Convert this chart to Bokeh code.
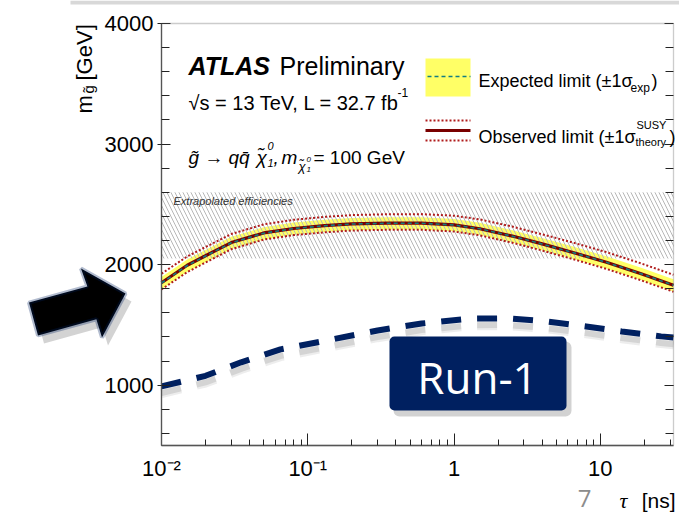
from math import log10, pi

from bokeh.embed import file_html
from bokeh.models import (Arrow, BoxAnnotation, FixedTicker, Label, LinearAxis,
                          PolyAnnotation)
from bokeh.plotting import figure
from bokeh.resources import INLINE
from bokeh.transform import dodge

# ---- limits on the gluino mass vs. lifetime ----
tau = [0.01, 0.015, 0.02, 0.03, 0.05, 0.08, 0.13, 0.2, 0.35, 0.6, 1.0, 1.5, 2.5, 4.0, 6.5, 11, 19, 31.6]
obs = [1850, 1995, 2074, 2183, 2263, 2300, 2323, 2338, 2344, 2344, 2330, 2298, 2237, 2172, 2101, 2020, 1925, 1830]
obs_up = [1925, 2068, 2146, 2254, 2334, 2372, 2396, 2411, 2418, 2419, 2406, 2375, 2316, 2252, 2183, 2104, 2010, 1916]
obs_dn = [1795, 1938, 2018, 2128, 2208, 2245, 2268, 2283, 2289, 2289, 2275, 2243, 2182, 2117, 2046, 1965, 1870, 1775]
exp = [1848, 1993, 2072, 2181, 2261, 2299, 2322, 2337, 2343, 2343, 2329, 2297, 2236, 2171, 2100, 2019, 1924, 1829]
exp_up = [1898, 2043, 2122, 2231, 2311, 2349, 2372, 2387, 2393, 2393, 2379, 2347, 2286, 2221, 2150, 2069, 1974, 1879]
exp_dn = [1796, 1941, 2020, 2129, 2209, 2247, 2270, 2285, 2291, 2291, 2277, 2245, 2184, 2119, 2048, 1967, 1872, 1777]

# Run-1 limit
run1_tau = [0.01, 0.02, 0.035, 0.065, 0.14, 0.3, 0.6, 1.3, 2.3, 4.2, 8, 14, 26, 31.6]
run1_mass = [990, 1078, 1190, 1297, 1375, 1454, 1512, 1552, 1555, 1530, 1487, 1446, 1405, 1395]

# region where signal efficiencies are extrapolated
extrap_lo, extrap_hi = 2050, 2600

x_ticks = [0.01, 0.1, 1, 10]
x_tick_labels = ["10⁻²", "10⁻¹", "1", "10"]
x_minor = [m * 10.0 ** e for e in (-2, -1, 0, 1) for m in range(2, 10) if m * 10.0 ** e < 31.7]
y_ticks = [1000, 2000, 3000, 4000]
y_minor = list(range(600, 4000, 200))

# ---- canvas geometry (pixels); the plot box sits inside a full-canvas frame ----
W, H = 679, 515
BL, BR, BT, BB = 161, 673, 23, 445          # plot box edges on the canvas
XMIN, XMAX = 0.01, 10 ** 1.5
YMIN, YMAX = 500, 4000
px_dec = (BR - BL) / (log10(XMAX) - log10(XMIN))
px_gev = (BB - BT) / (YMAX - YMIN)
x_lo = 10 ** (log10(XMIN) - BL / px_dec)
x_hi = 10 ** (log10(XMAX) + (W - BR) / px_dec)
y_lo = YMIN - (H - BB) / px_gev
y_hi = YMAX + BT / px_gev

FRAME = "#555555"
TICK = "#222222"
NAVY = "#002060"

p = figure(width=W, height=H, x_axis_type="log", x_range=(x_lo, x_hi), y_range=(y_lo, y_hi),
           output_backend="svg", toolbar_location=None, min_border=0)
p.xgrid.visible = False
p.ygrid.visible = False
p.background_fill_color = "white"
p.border_fill_color = "white"
p.outline_line_color = None

# bottom axis, ticks pointing into the box
xa = p.xaxis[0]
xa.fixed_location = YMIN
xa.bounds = (XMIN, XMAX)
xa.ticker = FixedTicker(ticks=x_ticks, minor_ticks=x_minor)
xa.major_label_overrides = {t: s for t, s in zip(x_ticks, x_tick_labels)}
xa.major_tick_in, xa.major_tick_out = 12, 0
xa.minor_tick_in, xa.minor_tick_out = 6, 0
xa.major_label_standoff = 10

ya = p.yaxis[0]
ya.fixed_location = XMIN
ya.bounds = (YMIN, YMAX)
ya.ticker = FixedTicker(ticks=y_ticks, minor_ticks=y_minor)
ya.major_tick_in, ya.major_tick_out = 9, 4
ya.minor_tick_in, ya.minor_tick_out = 8, 0
ya.major_label_standoff = 4

for a in (xa, ya):
    a.axis_line_color = FRAME
    a.axis_line_width = 1.3
    a.major_tick_line_color = TICK
    a.minor_tick_line_color = TICK
    a.major_label_text_font = "Liberation Sans"
    a.major_label_text_font_size = "22px"
    a.major_label_text_color = "black"

# mirrored ticks on the right edge of the box
ra = LinearAxis(ticker=FixedTicker(ticks=y_ticks, minor_ticks=y_minor), fixed_location=XMAX,
                bounds=(YMIN, YMAX), major_label_overrides={t: "" for t in y_ticks},
                axis_line_color=None, major_tick_in=9, major_tick_out=0,
                minor_tick_in=8, minor_tick_out=0,
                major_tick_line_color=TICK, minor_tick_line_color=TICK)
p.add_layout(ra, "right")


def sx(X):
    return X


def sy(Y):
    return H - Y


def put(X, Y, text, size, font="Liberation Sans", style="normal", color="black",
        align="left", baseline="alphabetic", angle=0.0):
    p.add_layout(Label(x=sx(X), y=sy(Y), x_units="screen", y_units="screen", text=text,
                       text_font=font, text_font_size=f"{size}px", text_font_style=style,
                       text_color=color, text_align=align, text_baseline=baseline,
                       angle=angle))


def screen_box(X0, X1, Y0, Y1, **kw):
    p.add_layout(BoxAnnotation(left=sx(X0), right=sx(X1), top=sy(Y0), bottom=sy(Y1),
                               left_units="screen", right_units="screen", top_units="screen",
                               bottom_units="screen", **kw))


def screen_line(X0, X1, Y, **kw):
    p.add_layout(Arrow(x_start=sx(X0), y_start=sy(Y), x_end=sx(X1), y_end=sy(Y),
                       start_units="screen", end_units="screen", end=None, **kw))


# ---- data layers ----
p.varea(x=tau, y1=exp_dn, y2=exp_up, fill_color="#ffff66", fill_alpha=1.0)
p.quad(left=[XMIN], right=[XMAX], bottom=[extrap_lo], top=[extrap_hi],
       fill_alpha=0, line_color=None, hatch_pattern="\\", hatch_color="#b8b8b8",
       hatch_scale=8, hatch_weight=1.0)
p.line(tau, obs_up, line_color="#b01c1c", line_width=2, line_dash="2 2")
p.line(tau, obs_dn, line_color="#b01c1c", line_width=2, line_dash="2 2")
p.line(tau, obs, line_color="#7a0000", line_width=3.2)
p.line(tau, exp, line_color="#127d82", line_width=1.6, line_dash="4 3")

# Run-1 curve with a soft drop shadow
run1 = dict(x=run1_tau, y=run1_mass)
p.line(x="x", y=dodge("y", -60, range=None), source=run1, line_color="#9a9a9a",
       line_width=9, line_alpha=0.18, line_dash="20 16")
p.line(x="x", y=dodge("y", -55, range=None), source=run1, line_color="#8a8a8a",
       line_width=6, line_alpha=0.25, line_dash="20 16")
p.line(x="x", y="y", source=run1, line_color=NAVY, line_width=6, line_dash="20 16")

# outline of the plot box
p.add_layout(BoxAnnotation(left=XMIN, right=XMAX, bottom=YMIN, top=YMAX, fill_alpha=0,
                           line_color=FRAME, line_width=1.3))

put(173, 200, "Extrapolated efficiencies", 11, style="italic", color="#333333")

# ---- labels in the box ----
put(188, 65, "ATLAS", 25, style="bold italic")
put(279, 65, "Preliminary", 25)
put(188, 102, "√s = 13 TeV, L = 32.7 fb", 20)
put(397, 92, "-1", 12)

put(188, 157, "g̃", 19, style="italic")
put(204, 157, "→", 19)
put(228, 157, "qq̄", 19, style="italic")
put(256, 157, "χ̃", 19, style="italic")
put(267, 145, "0", 11, style="italic")
put(267, 162, "1", 11, style="italic")
put(273, 157, ",", 19, style="italic")
put(281, 157, "m", 19, style="italic")
put(298, 166, "χ̃", 13, style="italic")
put(306, 159, "0", 8, style="italic")
put(306, 169, "1", 8, style="italic")
put(313, 157, "= 100 GeV", 19)

# legend
screen_box(425, 470, 58, 96, fill_color="#ffff66", fill_alpha=1, line_color=None)
screen_line(427, 470, 76, line_color="#127d82", line_width=1.6, line_dash="4 3")
put(478, 80, "Expected limit (±1σ", 18)
put(630, 87, "exp", 12)
put(651, 80, ")", 18)

for Y in (120, 140):
    screen_line(425, 470, Y, line_color="#b01c1c", line_width=2, line_dash="2 2")
screen_line(425, 470, 130, line_color="#7a0000", line_width=3)
put(478, 136, "Observed limit (±1σ", 18)
put(636, 124, "SUSY", 11)
put(635, 141, "theory", 11)
put(669, 136, ")", 18)

# ---- Run-1 badge ----
screen_box(393, 571, 341, 416, fill_color="#7f7f7f", fill_alpha=0.35, line_color=None,
           border_radius=6)
screen_box(389, 566, 336, 410, fill_color=NAVY, fill_alpha=1, line_color=None, border_radius=5)
put(477, 376, "Run-1", 44, font="Open Sans", color="white", align="center", baseline="middle")

# ---- pointer arrow beside the axis ----
arrow_pts = [(28.5, 302.1), (86.9, 285.9), (80.5, 268.0), (125.0, 293.0),
             (101.5, 337.0), (95.9, 318.7), (37.5, 334.9)]
p.add_layout(PolyAnnotation(xs=[sx(X + 6) for X, _ in arrow_pts], ys=[sy(Y + 8) for _, Y in arrow_pts],
                            xs_units="screen", ys_units="screen", fill_color="#808080",
                            fill_alpha=0.35, line_color=None))
p.add_layout(PolyAnnotation(xs=[sx(X) for X, _ in arrow_pts], ys=[sy(Y) for _, Y in arrow_pts],
                            xs_units="screen", ys_units="screen", fill_color="black",
                            fill_alpha=1, line_color=NAVY, line_width=4))

# ---- axis titles ----
put(84, 113, "m", 22, angle=pi / 2)
put(88, 93, "g̃", 15, angle=pi / 2)
put(84, 80, "[GeV]", 22, angle=pi / 2)

put(619, 500, "τ", 22, font="Liberation Serif", style="italic")
put(675, 500, "[ns]", 21, align="right")

# slide furniture: header rule and page number
screen_box(70, 679, 0, 4, fill_color="#d8d8d8", fill_alpha=1, line_color=None)
put(584, 498, "7", 24, font="Open Sans", color="#8c8c8c", align="center")

open("out.html", "w").write(file_html(p, INLINE))
